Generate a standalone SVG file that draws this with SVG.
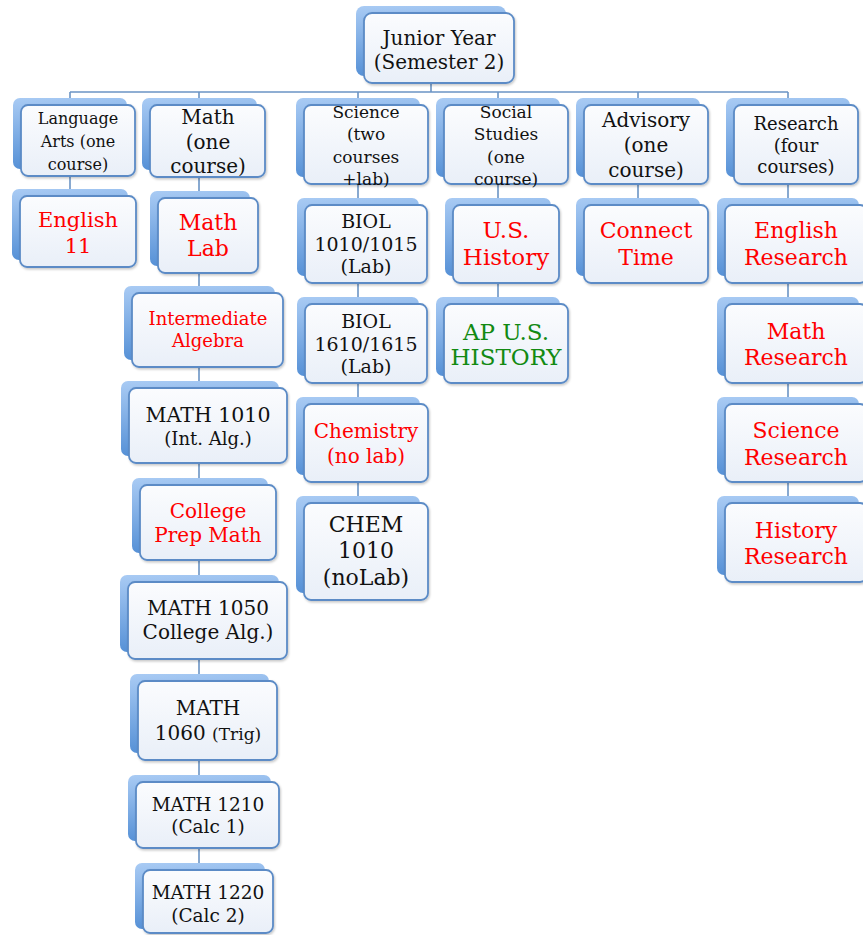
<svg xmlns="http://www.w3.org/2000/svg" width="863" height="935" viewBox="0 0 863 935">
<defs>
<linearGradient id="gBack" x1="0" y1="0" x2="0.15" y2="1">
<stop offset="0" stop-color="#a9cbf4"/>
<stop offset="1" stop-color="#5590d6"/>
</linearGradient>
<linearGradient id="gFront" x1="0" y1="0" x2="0" y2="1">
<stop offset="0" stop-color="#fbfcfe"/>
<stop offset="1" stop-color="#e9eff8"/>
</linearGradient>
<filter id="sh" x="-10%" y="-10%" width="130%" height="130%">
<feDropShadow dx="1" dy="1.5" stdDeviation="1.2" flood-color="#000" flood-opacity="0.22"/>
</filter>
</defs>
<style>
.b{fill:url(#gBack);}
.f{fill:url(#gFront);stroke:#5b8bc6;stroke-width:1.8;filter:url(#sh);}
.c{stroke:#6b94c5;stroke-width:1.6;fill:none;}
text{font-family:"DejaVu Serif","Liberation Serif",serif;text-anchor:middle;}
.k{fill:#111;}
.r{fill:#ff0000;}
.g{fill:#128a12;}
</style>
<rect width="863" height="935" fill="#fff"/>
<g id="connectors">
<path class="c" d="M431 76V92M70 92H788M70 92V192M199 92V866M358 92V500M498 92V300M638 92V200M788 92V500"/>
</g>
<g id="n-junior"><rect class="b" x="356" y="6" width="150" height="70" rx="8"/><rect class="f" x="364" y="13" width="150" height="70" rx="8"/>
<text class="k" x="439" y="45" font-size="20">Junior Year</text><text class="k" x="439" y="69" font-size="20">(Semester 2)</text></g>

<g id="n-langarts"><rect class="b" x="13" y="98" width="114" height="71" rx="7"/><rect class="f" x="21" y="105" width="114" height="71" rx="7"/>
<text class="k" x="78" y="124" font-size="16">Language</text><text class="k" x="78" y="147" font-size="16">Arts (one</text><text class="k" x="78" y="170" font-size="16">course)</text></g>

<g id="n-math"><rect class="b" x="142" y="98" width="115" height="72" rx="7"/><rect class="f" x="150" y="105" width="115" height="72" rx="7"/>
<text class="k" x="208" y="124" font-size="20">Math</text><text class="k" x="208" y="149" font-size="20">(one</text><text class="k" x="208" y="173" font-size="20">course)</text></g>

<g id="n-science"><rect class="b" x="296" y="98" width="124" height="79" rx="7"/><rect class="f" x="304" y="105" width="124" height="79" rx="7"/>
<text class="k" x="366" y="118" font-size="17">Science</text><text class="k" x="366" y="140" font-size="17">(two</text><text class="k" x="366" y="163" font-size="17">courses</text><text class="k" x="366" y="185" font-size="17">+lab)</text></g>

<g id="n-social"><rect class="b" x="436" y="98" width="124" height="79" rx="7"/><rect class="f" x="444" y="105" width="124" height="79" rx="7"/>
<text class="k" x="506" y="118" font-size="17">Social</text><text class="k" x="506" y="140" font-size="17">Studies</text><text class="k" x="506" y="163" font-size="17">(one</text><text class="k" x="506" y="185" font-size="17">course)</text></g>

<g id="n-advisory"><rect class="b" x="576" y="98" width="124" height="79" rx="7"/><rect class="f" x="584" y="105" width="124" height="79" rx="7"/>
<text class="k" x="646" y="127" font-size="20">Advisory</text><text class="k" x="646" y="152" font-size="20">(one</text><text class="k" x="646" y="177" font-size="20">course)</text></g>

<g id="n-research"><rect class="b" x="726" y="98" width="124" height="79" rx="7"/><rect class="f" x="734" y="105" width="124" height="79" rx="7"/>
<text class="k" x="796" y="130" font-size="18">Research</text><text class="k" x="796" y="152" font-size="18">(four</text><text class="k" x="796" y="173" font-size="18">courses)</text></g>

<g id="n-english11"><rect class="b" x="12" y="189" width="116" height="71" rx="7"/><rect class="f" x="20" y="196" width="116" height="71" rx="7"/>
<text class="r" x="78" y="227" font-size="21">English</text><text class="r" x="78" y="253" font-size="21">11</text></g>

<g id="n-mathlab"><rect class="b" x="150" y="191" width="100" height="75" rx="7"/><rect class="f" x="158" y="198" width="100" height="75" rx="7"/>
<text class="r" x="208" y="230" font-size="22">Math</text><text class="r" x="208" y="256" font-size="22">Lab</text></g>

<g id="n-biol1010"><rect class="b" x="297" y="198" width="122" height="78" rx="7"/><rect class="f" x="305" y="205" width="122" height="78" rx="7"/>
<text class="k" x="366" y="228" font-size="19">BIOL</text><text class="k" x="366" y="251" font-size="19">1010/1015</text><text class="k" x="366" y="273" font-size="19">(Lab)</text></g>

<g id="n-ushistory"><rect class="b" x="445" y="198" width="106" height="78" rx="7"/><rect class="f" x="453" y="205" width="106" height="78" rx="7"/>
<text class="r" x="506" y="238" font-size="23">U.S.</text><text class="r" x="506" y="265" font-size="23">History</text></g>

<g id="n-connect"><rect class="b" x="576" y="198" width="124" height="78" rx="7"/><rect class="f" x="584" y="205" width="124" height="78" rx="7"/>
<text class="r" x="646" y="238" font-size="22">Connect</text><text class="r" x="646" y="265" font-size="22">Time</text></g>

<g id="n-engresearch"><rect class="b" x="717" y="198" width="142" height="78" rx="7"/><rect class="f" x="725" y="205" width="142" height="78" rx="7"/>
<text class="r" x="796" y="238" font-size="22">English</text><text class="r" x="796" y="265" font-size="22">Research</text></g>

<g id="n-intalg"><rect class="b" x="124" y="286" width="151" height="74" rx="7"/><rect class="f" x="132" y="293" width="151" height="74" rx="7"/>
<text class="r" x="208" y="325" font-size="18">Intermediate</text><text class="r" x="208" y="347" font-size="18">Algebra</text></g>

<g id="n-biol1610"><rect class="b" x="297" y="297" width="122" height="79" rx="7"/><rect class="f" x="305" y="304" width="122" height="79" rx="7"/>
<text class="k" x="366" y="328" font-size="19">BIOL</text><text class="k" x="366" y="351" font-size="19">1610/1615</text><text class="k" x="366" y="373" font-size="19">(Lab)</text></g>

<g id="n-apush"><rect class="b" x="436" y="297" width="124" height="79" rx="7"/><rect class="f" x="444" y="304" width="124" height="79" rx="7"/>
<text class="g" x="506" y="340" font-size="23">AP U.S.</text><text class="g" x="506" y="365" font-size="23">HISTORY</text></g>

<g id="n-mathresearch"><rect class="b" x="717" y="297" width="142" height="79" rx="7"/><rect class="f" x="725" y="304" width="142" height="79" rx="7"/>
<text class="r" x="796" y="339" font-size="22">Math</text><text class="r" x="796" y="365" font-size="22">Research</text></g>

<g id="n-math1010"><rect class="b" x="121" y="381" width="158" height="75" rx="7"/><rect class="f" x="129" y="388" width="158" height="75" rx="7"/>
<text class="k" x="208" y="422" font-size="20.5">MATH 1010</text><text class="k" x="208" y="445" font-size="18">(Int. Alg.)</text></g>

<g id="n-chemistry"><rect class="b" x="296" y="397" width="124" height="78" rx="7"/><rect class="f" x="304" y="404" width="124" height="78" rx="7"/>
<text class="r" x="366" y="438" font-size="20">Chemistry</text><text class="r" x="366" y="463" font-size="20">(no lab)</text></g>

<g id="n-sciresearch"><rect class="b" x="717" y="397" width="142" height="78" rx="7"/><rect class="f" x="725" y="404" width="142" height="78" rx="7"/>
<text class="r" x="796" y="438" font-size="22">Science</text><text class="r" x="796" y="465" font-size="22">Research</text></g>

<g id="n-collegeprep"><rect class="b" x="132" y="478" width="136" height="75" rx="7"/><rect class="f" x="140" y="485" width="136" height="75" rx="7"/>
<text class="r" x="208" y="518" font-size="20">College</text><text class="r" x="208" y="542" font-size="20">Prep Math</text></g>

<g id="n-chem1010"><rect class="b" x="296" y="496" width="124" height="97" rx="7"/><rect class="f" x="304" y="503" width="124" height="97" rx="7"/>
<text class="k" x="366" y="532" font-size="22">CHEM</text><text class="k" x="366" y="558" font-size="22">1010</text><text class="k" x="366" y="585" font-size="22">(noLab)</text></g>

<g id="n-histresearch"><rect class="b" x="717" y="496" width="142" height="79" rx="7"/><rect class="f" x="725" y="503" width="142" height="79" rx="7"/>
<text class="r" x="796" y="538" font-size="22">History</text><text class="r" x="796" y="564" font-size="22">Research</text></g>

<g id="n-math1050"><rect class="b" x="120" y="575" width="159" height="77" rx="7"/><rect class="f" x="128" y="582" width="159" height="77" rx="7"/>
<text class="k" x="208" y="615" font-size="20">MATH 1050</text><text class="k" x="208" y="639" font-size="20">College Alg.)</text></g>

<g id="n-math1060"><rect class="b" x="130" y="674" width="139" height="79" rx="7"/><rect class="f" x="138" y="681" width="139" height="79" rx="7"/>
<text class="k" x="208" y="715" font-size="20">MATH</text><text class="k" x="208" y="740" font-size="20">1060 <tspan font-size="17">(Trig)</tspan></text></g>

<g id="n-math1210"><rect class="b" x="128" y="775" width="143" height="66" rx="7"/><rect class="f" x="136" y="782" width="143" height="66" rx="7"/>
<text class="k" x="208" y="811" font-size="18.5">MATH 1210</text><text class="k" x="208" y="833" font-size="18.5">(Calc 1)</text></g>

<g id="n-math1220"><rect class="b" x="135" y="863" width="130" height="66" rx="7"/><rect class="f" x="143" y="870" width="130" height="63" rx="7"/>
<text class="k" x="208" y="899" font-size="18.5">MATH 1220</text><text class="k" x="208" y="922" font-size="18.5">(Calc 2)</text></g>
</svg>
